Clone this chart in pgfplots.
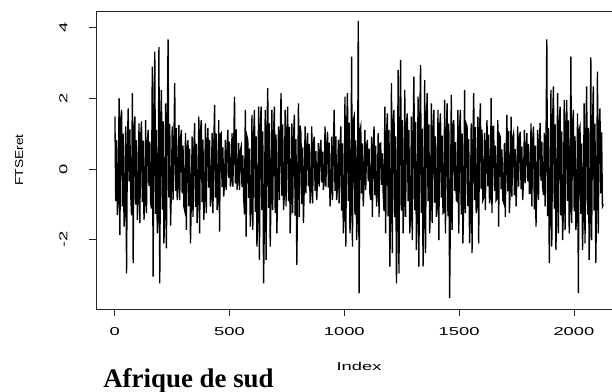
\documentclass[border=0pt]{standalone}
\usepackage{fontspec}
\usepackage{pgfplots}
\usepackage{pgfplotstable}
\pgfplotsset{compat=1.18}
\newfontfamily\rfont[FakeStretch=1.6]{Liberation Sans}
\newfontfamily\rlab[FakeStretch=1.2]{Liberation Sans}
\newfontfamily\ttl{Liberation Serif}
\pgfplotstableread[row sep=\\, header=false]{
1.48\\ -0.91\\ 0.81\\ -1.30\\
-0.93\\ 2.00\\ -1.86\\ 1.40\\
1.67\\ -1.06\\ 1.00\\ -1.63\\
-1.20\\ 1.20\\ -2.95\\ 0.66\\
1.71\\ -0.35\\ 1.12\\ -0.69\\
-1.31\\ 2.14\\ -2.66\\ 1.18\\
1.48\\ -1.01\\ 0.81\\ -1.44\\
-0.77\\ 1.29\\ -1.53\\ 0.90\\
1.34\\ -0.94\\ 0.80\\ -1.44\\
-0.88\\ 1.38\\ -1.25\\ 0.76\\
1.10\\ -0.48\\ 0.77\\ -0.95\\
-1.12\\ 2.89\\ -3.04\\ 1.33\\
3.31\\ -1.27\\ 1.10\\ -1.82\\
-1.38\\ 3.44\\ -3.23\\ 1.24\\
2.23\\ -1.15\\ 1.34\\ -2.10\\
-1.26\\ 1.85\\ -2.24\\ 1.02\\
3.66\\ -0.80\\ 1.27\\ -1.60\\
-0.57\\ 1.20\\ -0.88\\ 0.72\\
2.42\\ -0.62\\ 1.15\\ -0.88\\
-0.44\\ 1.24\\ -0.88\\ 0.87\\
1.10\\ -0.69\\ 0.66\\ -1.06\\
-1.17\\ 1.01\\ -1.72\\ 0.56\\
0.82\\ -1.05\\ 0.57\\ -2.10\\
-0.88\\ 0.91\\ -1.35\\ 0.55\\
1.29\\ -1.07\\ 0.71\\ -1.53\\
-0.91\\ 1.48\\ -1.82\\ 1.04\\
1.38\\ -0.94\\ 0.83\\ -1.44\\
-0.88\\ 1.29\\ -1.25\\ 0.71\\
1.15\\ -0.53\\ 0.81\\ -1.06\\
-0.81\\ 1.01\\ -1.25\\ 0.61\\
1.81\\ -0.81\\ 1.00\\ -1.16\\
-0.89\\ 1.38\\ -1.77\\ 0.97\\
1.01\\ -0.51\\ 0.61\\ -0.78\\
-0.41\\ 0.82\\ -0.59\\ 0.45\\
1.10\\ -0.25\\ 0.77\\ -0.50\\
-0.33\\ 1.01\\ -0.50\\ 0.61\\
2.04\\ -0.41\\ 1.12\\ -0.59\\
-0.30\\ 0.73\\ -0.59\\ 0.51\\
0.63\\ -0.51\\ 0.38\\ -0.78\\
-1.28\\ 1.67\\ -1.91\\ 0.92\\
0.82\\ -0.82\\ 0.57\\ -1.63\\
-1.12\\ 1.53\\ -1.72\\ 0.92\\
1.67\\ -1.21\\ 0.92\\ -2.19\\
-1.33\\ 1.76\\ -2.57\\ 1.15\\
1.76\\ -1.16\\ 1.06\\ -3.23\\
-1.36\\ 1.67\\ -2.57\\ 0.92\\
2.28\\ -1.10\\ 1.29\\ -2.19\\
-0.75\\ 1.67\\ -1.16\\ 1.00\\
1.76\\ -1.24\\ 0.97\\ -1.82\\
-0.44\\ 1.20\\ -0.88\\ 0.84\\
2.14\\ -0.75\\ 1.26\\ -1.16\\
-0.74\\ 1.67\\ -1.06\\ 0.92\\
1.76\\ -0.91\\ 1.18\\ -1.82\\
-0.81\\ 1.29\\ -1.25\\ 0.77\\
1.53\\ -1.32\\ 0.84\\ -2.71\\
-0.68\\ 1.85\\ -1.35\\ 1.22\\
1.01\\ -0.99\\ 0.61\\ -1.53\\
-0.48\\ 1.20\\ -0.69\\ 0.66\\
1.01\\ -0.49\\ 0.71\\ -0.97\\
-0.63\\ 1.20\\ -0.97\\ 0.72\\
0.91\\ -0.62\\ 0.50\\ -0.88\\
-0.25\\ 0.73\\ -0.50\\ 0.51\\
0.82\\ -0.38\\ 0.49\\ -0.59\\
-0.35\\ 1.20\\ -0.50\\ 0.66\\
1.05\\ -0.53\\ 0.74\\ -1.06\\
-0.57\\ 0.91\\ -0.88\\ 0.55\\
1.67\\ -0.62\\ 0.92\\ -0.88\\
-0.49\\ 0.82\\ -0.97\\ 0.57\\
1.20\\ -1.18\\ 0.72\\ -1.82\\
-1.27\\ 2.04\\ -2.19\\ 1.12\\
2.14\\ -0.91\\ 1.31\\ -1.82\\
-1.14\\ 3.17\\ -2.19\\ 1.36\\
1.48\\ -1.29\\ 0.81\\ -2.01\\
-1.22\\ 4.18\\ -3.51\\ 1.08\\
1.20\\ -0.69\\ 0.72\\ -1.06\\
-0.41\\ 1.10\\ -0.59\\ 0.61\\
0.82\\ -0.35\\ 0.57\\ -0.69\\
-0.88\\ 0.91\\ -1.35\\ 0.55\\
1.20\\ -0.74\\ 0.66\\ -1.06\\
-0.68\\ 1.01\\ -1.35\\ 0.71\\
0.73\\ -0.45\\ 0.44\\ -0.69\\
-1.19\\ 1.76\\ -1.82\\ 0.97\\
1.57\\ -1.34\\ 1.10\\ -2.76\\
-1.13\\ 2.42\\ -2.38\\ 1.29\\
1.67\\ -1.36\\ 0.92\\ -3.23\\
-1.25\\ 2.80\\ -2.95\\ 1.17\\
3.08\\ -1.18\\ 1.38\\ -1.82\\
-0.95\\ 2.23\\ -1.35\\ 1.24\\
1.57\\ -0.91\\ 1.10\\ -1.82\\
-1.31\\ 1.48\\ -2.01\\ 0.89\\
2.61\\ -1.16\\ 1.33\\ -2.29\\
-1.37\\ 2.04\\ -2.76\\ 1.21\\
2.94\\ -1.24\\ 1.14\\ -2.76\\
-1.30\\ 2.51\\ -2.38\\ 1.35\\
2.14\\ -0.91\\ 1.26\\ -1.82\\
-0.99\\ 1.85\\ -1.53\\ 1.11\\
1.67\\ -0.95\\ 0.92\\ -1.35\\
-1.01\\ 1.67\\ -2.01\\ 1.17\\
1.57\\ -0.81\\ 0.94\\ -1.25\\
-1.22\\ 1.95\\ -1.82\\ 1.07\\
1.85\\ -1.34\\ 1.28\\ -3.65\\
-1.12\\ 2.09\\ -1.72\\ 1.23\\
1.38\\ -0.62\\ 0.76\\ -0.88\\
-0.91\\ 1.67\\ -1.82\\ 1.17\\
1.67\\ -1.29\\ 1.00\\ -2.10\\
-0.88\\ 2.23\\ -1.25\\ 1.27\\
1.20\\ -1.05\\ 0.84\\ -2.10\\
-1.23\\ 1.29\\ -2.38\\ 0.77\\
2.14\\ -0.88\\ 1.18\\ -1.25\\
-1.05\\ 1.48\\ -2.10\\ 1.04\\
1.85\\ -0.57\\ 1.11\\ -0.88\\
-0.81\\ 1.01\\ -1.16\\ 0.56\\
1.38\\ -0.49\\ 0.97\\ -0.97\\
-0.81\\ 2.00\\ -1.25\\ 1.19\\
1.20\\ -0.62\\ 0.66\\ -0.88\\
-0.82\\ 1.38\\ -1.63\\ 0.97\\
0.91\\ -0.57\\ 0.55\\ -0.88\\
-0.95\\ 0.73\\ -1.35\\ 0.40\\
1.53\\ -0.63\\ 1.07\\ -1.25\\
-0.51\\ 1.48\\ -0.78\\ 0.89\\
1.01\\ -0.74\\ 0.56\\ -1.06\\
-0.25\\ 1.20\\ -0.50\\ 0.84\\
1.05\\ -0.57\\ 0.63\\ -0.88\\
-0.28\\ 1.10\\ -0.40\\ 0.61\\
1.01\\ -0.35\\ 0.71\\ -0.69\\
-0.69\\ 1.29\\ -1.06\\ 0.77\\
1.20\\ -1.14\\ 0.66\\ -1.63\\
-0.44\\ 1.10\\ -0.88\\ 0.77\\
1.29\\ -0.33\\ 0.77\\ -0.50\\
-0.74\\ 1.01\\ -1.06\\ 0.56\\
3.66\\ -1.33\\ 1.15\\ -2.66\\
-1.21\\ 2.23\\ -2.19\\ 1.34\\
2.33\\ -1.12\\ 1.26\\ -2.29\\
-0.91\\ 2.14\\ -1.82\\ 1.30\\
1.76\\ -1.31\\ 1.06\\ -2.01\\
-1.19\\ 1.95\\ -1.72\\ 1.07\\
1.95\\ -0.91\\ 1.37\\ -1.82\\
-0.99\\ 3.17\\ -1.53\\ 1.22\\
1.67\\ -1.20\\ 0.92\\ -1.72\\
-1.38\\ 1.57\\ -3.51\\ 1.10\\
1.20\\ -1.27\\ 0.72\\ -2.29\\
-1.14\\ 1.85\\ -2.10\\ 1.02\\
2.33\\ -1.29\\ 1.16\\ -2.57\\
-1.31\\ 3.15\\ -2.01\\ 1.25\\
2.33\\ -1.18\\ 1.28\\ -2.66\\
-0.91\\ 2.75\\ -1.82\\ 1.21\\
1.71\\ -0.69\\ 1.03\\ -1.06\\
-1.00\\
}\ftse
\begin{document}
\begin{tikzpicture}
\begin{axis}[
  at={(0,0)}, anchor=south west,
  scale only axis, width=516bp, height=298bp,
  xmin=-81.4, xmax=2166, ymin=-3.955, ymax=4.46,
  axis x line*=box, axis y line*=left,
  x axis line style={-}, y axis line style={-},
  axis line style={black!85, line width=0.7pt},
  xtick={0,500,1000,1500,2000}, ytick={-2,0,2,4},
  xtick pos=bottom, ytick pos=left,
  tick align=outside, major tick length=7bp,
  every tick/.style={black!85, line width=0.7pt},
  /pgf/number format/assume math mode=true,
  /pgf/number format/1000 sep={},
  xticklabel shift=8bp,
  yticklabel shift=18bp,
  xticklabel style={font=\rfont\fontsize{11.5}{12}\selectfont},
  yticklabel style={font=\rfont\fontsize{11.5}{12}\selectfont, rotate=90, anchor=south},
  xlabel={Index}, ylabel={FTSEret},
  xlabel style={font=\rfont\fontsize{11.5}{12}\selectfont, at={(axis description cs:0.5097,-0.191)}, anchor=center},
  ylabel style={font=\rlab\fontsize{11.5}{12}\selectfont, at={(axis description cs:-0.149,0.5)}, anchor=center},
  clip=true,
]
\addplot[black, line width=1.35pt, line join=miter] table[x expr=\coordindex*3.6173+1, y index=0] {\ftse};
\end{axis}
\node[font=\ttl\bfseries\fontsize{27}{30}\selectfont, anchor=base] at (92.5bp,-78bp) {Afrique de sud};
\pgfresetboundingbox
\path[use as bounding box] (-96bp,-83bp) rectangle (516bp,309bp);
\end{tikzpicture}
\end{document}
